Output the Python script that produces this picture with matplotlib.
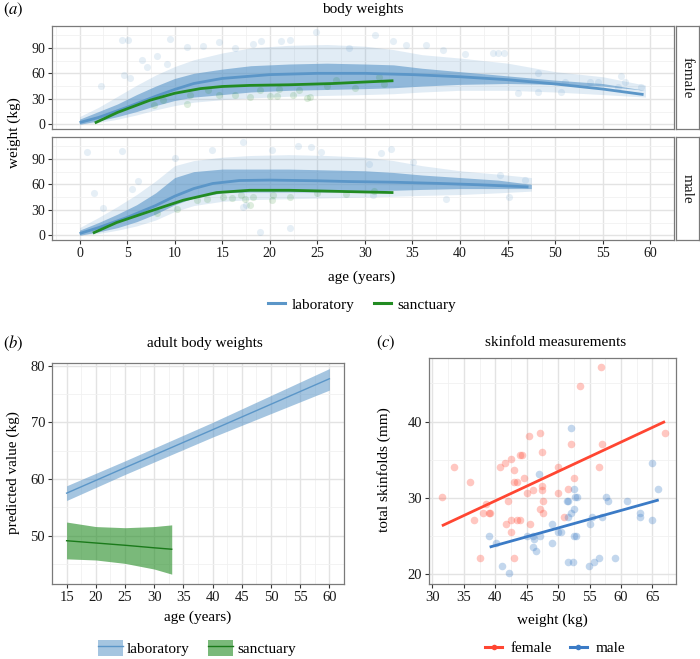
import matplotlib.pyplot as plt
from matplotlib.lines import Line2D
from matplotlib.patches import Patch

plt.rcParams['font.family'] = ['Liberation Serif', 'DejaVu Serif']
plt.rcParams['mathtext.fontset'] = 'stix'

LAB = '#5b96c8'
SAN = '#228b22'
RED = '#ff4632'
BLUE = '#3b7bc6'

# ---- (a) body weights: fitted curves ----
fem_lab_age = [0, 2, 5, 8, 10, 12, 15, 20, 25, 30, 35, 40, 45, 50, 55, 59.3]
fem_lab_wt = [2, 8, 20, 33, 41, 48, 54, 58.5, 60, 60, 58.5, 56, 52.5, 47.5, 41.5, 35]
fem_san_age = [1.6, 4, 7.4, 10, 12.7, 15, 17.9, 22, 26.6, 30, 33]
fem_san_wt = [1.5, 14, 28.3, 36.5, 42, 44.5, 45.8, 46.5, 48, 49.8, 51.3]
mal_lab_age = [0, 2, 5, 8, 10, 12, 14, 16.8, 20, 25, 28.3, 33, 38, 42, 47.2]
mal_lab_wt = [2, 9, 21, 35, 46, 55, 61, 64.5, 65, 64.2, 63.3, 62.5, 61, 59.5, 57]
mal_san_age = [1.4, 3.9, 7.4, 10.9, 14.4, 17.9, 22, 26, 30, 33]
mal_san_wt = [2.5, 15, 28.3, 41.3, 50.3, 53, 53, 52, 51, 50.3]

# ---- (a) laboratory point cloud, read as dense core and faint outer envelope ----
fem_cloud_age = [0, 2, 4, 6, 8, 10, 12, 15, 18, 22, 26, 30, 33, 36, 40, 45, 50, 55, 59.5]
fem_core_lo = [0, 4, 9, 15, 22, 28, 32, 35, 38, 40, 41, 42, 43, 45, 47, 48, 47, 45, 40]
fem_core_hi = [6, 15, 24, 35, 45, 54, 60, 65, 69, 71, 72, 71, 70, 66, 62, 57, 52, 48, 40]
fem_outer_lo = [0, 2, 6, 11, 17, 22, 26, 29, 31, 33, 34, 35, 36, 38, 40, 40, 38, 35, 32]
fem_outer_hi = [9, 20, 33, 46, 58, 68, 76, 84, 90, 93, 94, 92, 88, 82, 78, 72, 62, 56, 46]
mal_cloud_age = [0, 2, 4, 6, 8, 10, 12, 15, 18, 22, 26, 30, 33, 36, 40, 44, 47.5]
mal_core_lo = [0, 4, 9, 16, 25, 36, 44, 50, 51, 51, 51, 52, 53, 54, 55, 55, 55]
mal_core_hi = [6, 15, 25, 36, 50, 68, 75, 78, 78, 78, 77, 76, 74, 71, 68, 65, 60]
mal_outer_lo = [0, 2, 6, 11, 18, 28, 35, 40, 42, 43, 44, 45, 46, 47, 48, 50, 52]
mal_outer_hi = [9, 21, 34, 48, 64, 82, 88, 92, 94, 95, 94, 92, 88, 82, 76, 72, 68]

# outlying laboratory points (age, weight)
fem_out_age = [4.5, 5.1, 9.5, 2.3, 4.7, 5.3, 6.6, 7.1, 8.1, 11.3, 13.0, 14.7, 16.3, 9.2,
               24.9, 18.2, 19.1, 21.2, 22.1, 31.1, 33.0, 34.3, 36.4, 28.3,
               40.5, 43.5, 44.0, 44.6, 48.2, 51.0, 53.7, 54.5, 56.9, 57.4, 59.0, 56.6,
               50.6, 46.1, 48.2, 38.2]
fem_out_wt = [99, 99, 100, 45, 57.8, 54.6, 75.5, 67.6, 80.6, 91.2, 92.4, 97, 89.3, 71.6,
              108.9, 95, 98, 98, 99, 105, 98, 93.2, 93.2, 89.3,
              83, 84, 84, 84, 60.5, 50, 50, 50, 56.6, 50, 43.6, 43.6,
              38, 36.5, 38, 87]
mal_out_age = [0.8, 4.5, 1.5, 2.5, 5.5, 6.1, 10.0, 13.9, 17.2, 17.5, 19.0, 22.1, 23.0,
               24.3, 20.2, 25.4, 31.7, 32.7, 35.1, 30.4, 44.2, 46.8, 45.1, 38.5, 30.8, 17.2]
mal_out_wt = [97.7, 99, 49.7, 32.7, 55, 64, 90.6, 101, 110, 35.4, 3.5, 8.8, 105,
              104, 100, 98, 97, 102, 86.4, 84.5, 70.8, 65.7, 45.2, 43.3, 47.2, 33.4]

# sanctuary points (age, weight)
fem_sp_age = [7.8, 8.8, 11.6, 14.7, 16.3, 17.9, 20.0, 20.8, 22.4, 24.2, 23.1, 27.0, 31.5,
              21.0, 11.3, 23.9, 13.5, 19.0, 26.0, 29.0, 32.0]
fem_sp_wt = [22.4, 28.3, 34.2, 35, 34.2, 32.2, 33.4, 33.4, 34.2, 32.2, 40, 52, 55.8,
             42, 24.4, 31, 40, 40, 45, 43, 48]
mal_sp_age = [8.1, 10.2, 12.3, 13.4, 15.1, 16.0, 17.4, 17.0, 18.2, 20.2, 20.3, 22.1,
              17.9, 25.0, 28.0, 31.0]
mal_sp_wt = [26.7, 31.4, 41.3, 43.2, 45.2, 44.0, 43.2, 48.0, 45.2, 41.3, 47.2, 45.0,
             35.4, 50, 49, 52]

# ---- (b) adult body weights ----
lab_age = [15, 25, 40, 60]
lab_fit = [57.5, 62.0, 68.7, 77.7]
lab_lo = [56.2, 60.8, 67.4, 75.7]
lab_hi = [58.8, 63.2, 70.0, 79.5]
san_age = [15, 20, 25, 30, 33]
san_fit = [49.1, 48.7, 48.3, 47.85, 47.6]
san_lo = [45.9, 45.7, 45.1, 44.1, 43.2]
san_hi = [52.4, 51.6, 51.4, 51.6, 51.9]

# ---- (c) skinfold measurements ----
fem_weight = [31.5, 33.5, 36.05, 36.57, 37.58, 38.53, 38.0, 38.96, 39.1, 40.76, 41.55,
              42.5, 42.03, 41.7, 42.5, 42.5, 43.04, 43.04, 43.0, 43.52, 43.5, 44.0,
              44.0, 44.3, 44.52, 45.05, 45.32, 45.5, 46.0, 47.07, 47.07, 47.5, 47.5,
              47.5, 47.6, 47.6, 49.98, 49.98, 50.94, 51.57, 52.48, 52.05, 53.54,
              56.5, 56.98, 56.88, 67.0]
fem_skin = [30.06, 34.07, 32.09, 27.03, 22.07, 29.1, 28.04, 28.04, 28.04, 34.07, 34.55,
            35.08, 29.54, 26.55, 27.08, 25.5, 33.58, 22.07, 32.04, 32.04, 27.08, 27.08,
            35.6, 35.6, 32.57, 30.55, 38.1, 26.55, 31.03, 38.55, 28.53, 36.05, 31.5,
            31.03, 29.54, 28.04, 34.07, 30.55, 27.52, 31.08, 32.57, 37.06, 44.62,
            34.07, 37.06, 47.12, 38.55]
mal_weight = [39.07, 40.07, 41.07, 42.18, 45.0, 46.0, 46.1, 46.0, 46.54, 47.02, 47.12,
              48.98, 48.98, 49.98, 50.52, 51.57, 52.0, 52.48, 52.1, 51.57, 51.4, 52.53,
              52.64, 53.0, 52.48, 52.9, 51.57, 52.37, 55.03, 55.45, 54.9, 55.7, 56.5,
              57.04, 57.57, 58.0, 59.0, 61.02, 62.98, 62.98, 65.0, 65.0, 65.95]
mal_skin = [25.01, 24.05, 21.05, 20.04, 25.0, 25.0, 24.6, 23.52, 23.03, 33.05, 25.0,
            26.55, 24.05, 25.54, 25.54, 27.52, 28.04, 28.53, 39.12, 29.54, 29.54, 31.08,
            30.06, 30.06, 25.0, 25.0, 21.54, 21.54, 26.55, 27.52, 21.05, 21.54, 22.07,
            27.52, 30.06, 29.54, 22.07, 29.54, 28.04, 27.52, 34.55, 27.03, 31.08]
fem_line_w = [31.5, 67.0]
fem_line_s = [26.3, 40.0]
mal_line_w = [39.1, 66.0]
mal_line_s = [23.5, 29.7]

W, H = 700, 659
TXT = 11


def fx(px):
    return px / W


def fy(py):
    return 1 - py / H


def box(l, t, r, b):
    return [fx(l), fy(b), (r - l) / W, (b - t) / H]


def style(ax, size):
    for s in ax.spines.values():
        s.set_color('#7a7a7a')
        s.set_linewidth(0.9)
    ax.grid(which='major', color='#e3e3e3', lw=1.0)
    ax.grid(which='minor', color='#f1f1f1', lw=0.6)
    ax.set_axisbelow(True)
    ax.tick_params(which='major', length=3, width=0.8, color='#333333',
                   labelsize=size, labelcolor='#1a1a1a', pad=2)
    ax.tick_params(which='minor', length=0)


fig = plt.figure(figsize=(7, 6.59), dpi=100)

# ---------- panel (a) ----------
facets = [
    ('female', (52, 26, 674, 129), fem_cloud_age, fem_core_lo, fem_core_hi, fem_outer_lo,
     fem_outer_hi, fem_out_age, fem_out_wt, fem_sp_age, fem_sp_wt,
     fem_lab_age, fem_lab_wt, fem_san_age, fem_san_wt),
    ('male', (52, 137, 674, 240), mal_cloud_age, mal_core_lo, mal_core_hi, mal_outer_lo,
     mal_outer_hi, mal_out_age, mal_out_wt, mal_sp_age, mal_sp_wt,
     mal_lab_age, mal_lab_wt, mal_san_age, mal_san_wt),
]
for i, (name, bb, ca, clo, chi, olo, ohi, oa, ow, sa, sw, la, lw_, sa2, sw2) in enumerate(facets):
    ax = fig.add_axes(box(*bb))
    ax.fill_between(ca, olo, ohi, color=LAB, alpha=0.18, lw=0)
    ax.fill_between(ca, clo, chi, color=LAB, alpha=0.6, lw=0)
    ax.scatter(oa, ow, s=26, color=LAB, alpha=0.15, lw=0)
    ax.scatter(sa, sw, s=26, color=SAN, alpha=0.15, lw=0)
    ax.plot(la, lw_, color=LAB, lw=2.0, solid_capstyle='butt')
    ax.plot(sa2, sw2, color=SAN, lw=2.0, solid_capstyle='butt')
    ax.set_xlim(-2.9, 62.2)
    ax.set_ylim(-5.6, 115.8)
    ax.set_xticks(range(0, 61, 5))
    ax.set_xticks([x + 2.5 for x in range(-5, 61, 5)], minor=True)
    ax.set_yticks([0, 30, 60, 90])
    ax.set_yticks([15, 45, 75, 105], minor=True)
    style(ax, 10)
    if i == 0:
        ax.tick_params(axis='x', which='both', bottom=False, labelbottom=False)
    sax = fig.add_axes(box(676, bb[1], 699, bb[3]))
    sax.set_xticks([])
    sax.set_yticks([])
    for s in sax.spines.values():
        s.set_color('#7a7a7a')
        s.set_linewidth(0.9)
    sax.text(0.5, 0.5, name, rotation=-90, ha='center', va='center', fontsize=TXT,
             color='#1a1a1a', transform=sax.transAxes)

fig.text(fx(3), fy(10), r'$(a)$', fontsize=12, ha='left', va='center')
fig.text(fx(363), fy(9), 'body weights', fontsize=TXT, ha='center', va='center')
fig.text(fx(14), fy(133), 'weight (kg)', fontsize=TXT, rotation=90, ha='center', va='center')
fig.text(fx(362), fy(277), 'age (years)', fontsize=TXT, ha='center', va='center')
fig.legend(handles=[Line2D([], [], color=LAB, lw=2.2), Line2D([], [], color=SAN, lw=2.2)],
           labels=['laboratory', 'sanctuary'], loc='center', bbox_to_anchor=(fx(362), fy(305)),
           ncol=2, frameon=False, handlelength=1.1, columnspacing=1.3, handletextpad=0.4,
           fontsize=TXT)

# ---------- panel (b) ----------
axb = fig.add_axes(box(52, 363, 344, 584))
axb.fill_between(lab_age, lab_lo, lab_hi, color=LAB, alpha=0.55, lw=0)
axb.plot(lab_age, lab_fit, color=LAB, lw=1.0)
axb.fill_between(san_age, san_lo, san_hi, color=SAN, alpha=0.6, lw=0)
axb.plot(san_age, san_fit, color='#1a7a1a', lw=1.0)
axb.set_xlim(12.75, 62.25)
axb.set_ylim(41.46, 80.48)
axb.set_xticks(range(15, 61, 5))
axb.set_xticks([x + 2.5 for x in range(10, 61, 5)], minor=True)
axb.set_yticks([50, 60, 70, 80])
axb.set_yticks([45, 55, 65, 75], minor=True)
style(axb, 10.5)
fig.text(fx(3), fy(343), r'$(b)$', fontsize=12, ha='left', va='center')
fig.text(fx(205), fy(343), 'adult body weights', fontsize=TXT, ha='center', va='center')
fig.text(fx(13), fy(473), 'predicted value (kg)', fontsize=TXT, rotation=90, ha='center', va='center')
fig.text(fx(198), fy(617), 'age (years)', fontsize=TXT, ha='center', va='center')
hb = [(Patch(facecolor=LAB, alpha=0.55, lw=0), Line2D([], [], color=LAB, lw=1.0)),
      (Patch(facecolor=SAN, alpha=0.6, lw=0), Line2D([], [], color='#1a7a1a', lw=1.0))]
fig.legend(handles=hb, labels=['laboratory', 'sanctuary'], loc='center',
           bbox_to_anchor=(fx(197), fy(648)), ncol=2, frameon=False, handlelength=1.65,
           handleheight=1.3, columnspacing=1.2, handletextpad=0.25, fontsize=TXT)

# ---------- panel (c) ----------
axc = fig.add_axes(box(429, 358, 676, 584))
axc.scatter(fem_weight, fem_skin, s=30, color=RED, alpha=0.3, lw=0)
axc.scatter(mal_weight, mal_skin, s=30, color=BLUE, alpha=0.3, lw=0)
axc.plot(fem_line_w, fem_line_s, color=RED, lw=2.0, solid_capstyle='butt')
axc.plot(mal_line_w, mal_line_s, color=BLUE, lw=2.0, solid_capstyle='butt')
axc.set_xlim(29.45, 68.75)
axc.set_ylim(18.65, 48.35)
axc.set_xticks(range(30, 66, 5))
axc.set_xticks([x + 2.5 for x in range(30, 66, 5)], minor=True)
axc.set_yticks([20, 30, 40])
axc.set_yticks([25, 35, 45], minor=True)
style(axc, 10.5)
fig.text(fx(376), fy(343), r'$(c)$', fontsize=12, ha='left', va='center')
fig.text(fx(556), fy(342), 'skinfold measurements', fontsize=TXT, ha='center', va='center')
fig.text(fx(384), fy(470), 'total skinfolds (mm)', fontsize=TXT, rotation=90, ha='center', va='center')
fig.text(fx(552), fy(620), 'weight (kg)', fontsize=TXT, ha='center', va='center')
hc = [Line2D([], [], color=RED, lw=2.2, marker='o', ms=4, mfc=RED, mec='none'),
      Line2D([], [], color=BLUE, lw=2.2, marker='o', ms=4, mfc=BLUE, mec='none')]
fig.legend(handles=hc, labels=['female', 'male'], loc='center', bbox_to_anchor=(fx(555), fy(648)),
           ncol=2, frameon=False, handlelength=1.1, columnspacing=1.2, handletextpad=0.55,
           fontsize=TXT)

fig.savefig('out.png', dpi=100)
